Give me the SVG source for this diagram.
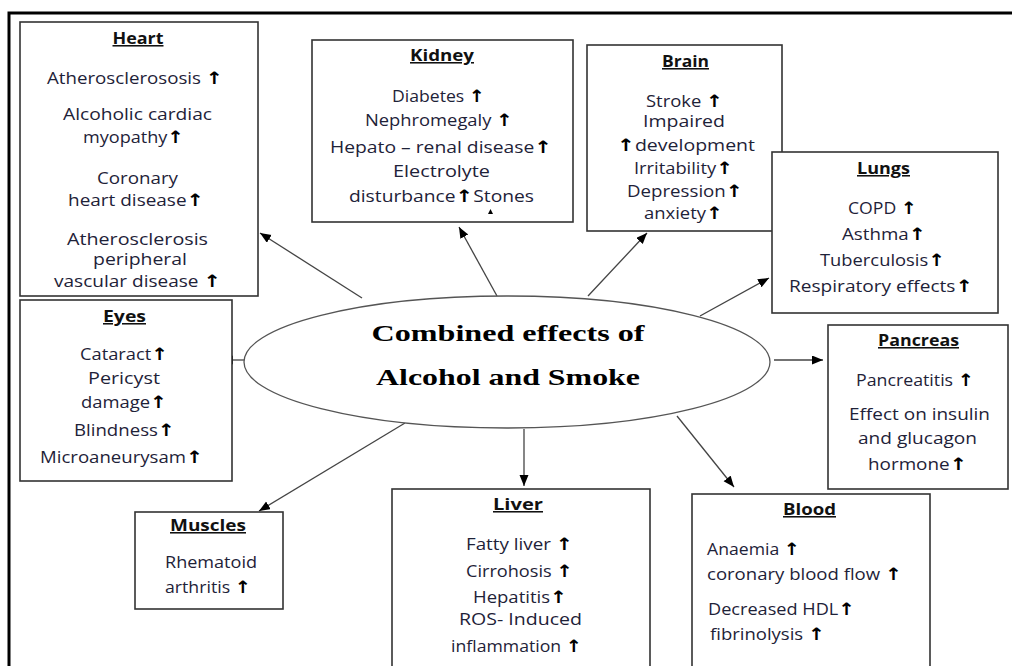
<svg xmlns="http://www.w3.org/2000/svg" width="1012" height="666" viewBox="0 0 1012 666">
<style>
.box{fill:#fff;stroke:#333;stroke-width:1.6}
.t{font-family:"Open Sans","Liberation Sans",sans-serif;font-size:15.5px;fill:#1e2238;text-anchor:middle}
.l{text-anchor:start}
.h{font-weight:bold;fill:#111;text-decoration:underline}
.up{font-family:"DejaVu Sans",sans-serif;font-weight:bold;font-size:17px;fill:#000}
.con{stroke:#444;stroke-width:1.3;fill:none;marker-end:url(#ah)}
.ct{font-family:"Liberation Serif","Times New Roman",serif;font-weight:bold;font-size:23px;fill:#000;text-anchor:middle}
</style>
<defs>
<marker id="ah" markerUnits="userSpaceOnUse" markerWidth="12" markerHeight="10" refX="11" refY="4.5" orient="auto">
<path d="M0,0 L11,4.5 L0,9 z" fill="#000"/>
</marker>
</defs>
<rect width="1012" height="666" fill="#fff"/>
<path d="M9,666 V13 H1012" fill="none" stroke="#000" stroke-width="3"/>

<g id="connectors">
<path class="con" d="M362,298 L260,233"/>
<path class="con" d="M497,296 L459,227"/>
<path class="con" d="M588,296 L647,233"/>
<path class="con" d="M700,316 L769,278"/>
<path class="con" d="M245,360 L222,360"/>
<path class="con" d="M774,360 L823,360"/>
<path class="con" d="M524,429 L524,486"/>
<path class="con" d="M677,416 L734,487"/>
<path class="con" d="M405,423 L259,511"/>
</g>

<g id="center">
<ellipse cx="507" cy="362" rx="263" ry="66" fill="#fff" stroke="#555" stroke-width="1.3"/>
<text class="ct" x="508" y="341" textLength="273" lengthAdjust="spacingAndGlyphs">Combined effects of</text>
<text class="ct" x="508" y="385" textLength="264" lengthAdjust="spacingAndGlyphs">Alcohol and Smoke</text>
</g>

<g id="heart">
<rect class="box" x="20" y="22" width="238" height="274"/>
<text class="t h" x="138" y="44" textLength="51" lengthAdjust="spacingAndGlyphs">Heart</text>
<text class="t" x="135" y="84" textLength="176" lengthAdjust="spacingAndGlyphs">Atherosclerososis <tspan class="up">↑</tspan></text>
<text class="t" x="137.5" y="120" textLength="149" lengthAdjust="spacingAndGlyphs">Alcoholic cardiac</text>
<text class="t" x="133.5" y="143" textLength="101" lengthAdjust="spacingAndGlyphs">myopathy<tspan class="up">↑</tspan></text>
<text class="t" x="137.5" y="184" textLength="81" lengthAdjust="spacingAndGlyphs">Coronary</text>
<text class="t" x="136" y="206" textLength="136" lengthAdjust="spacingAndGlyphs">heart disease<tspan class="up">↑</tspan></text>
<text class="t" x="137.5" y="245" textLength="141" lengthAdjust="spacingAndGlyphs">Atherosclerosis</text>
<text class="t" x="140" y="265" textLength="94" lengthAdjust="spacingAndGlyphs">peripheral</text>
<text class="t" x="137.5" y="287" textLength="167" lengthAdjust="spacingAndGlyphs">vascular disease <tspan class="up">↑</tspan></text>
</g>

<g id="kidney">
<rect class="box" x="312" y="40" width="261" height="182"/>
<text class="t h" x="442" y="61" textLength="64" lengthAdjust="spacingAndGlyphs">Kidney</text>
<text class="t" x="438.5" y="102" textLength="93" lengthAdjust="spacingAndGlyphs">Diabetes <tspan class="up">↑</tspan></text>
<text class="t" x="439" y="126" textLength="148" lengthAdjust="spacingAndGlyphs">Nephromegaly <tspan class="up">↑</tspan></text>
<text class="t" x="441" y="153" textLength="222" lengthAdjust="spacingAndGlyphs">Hepato – renal disease<tspan class="up">↑</tspan></text>
<text class="t" x="441.5" y="177" textLength="97" lengthAdjust="spacingAndGlyphs">Electrolyte</text>
<text class="t" x="441.5" y="202" textLength="185" lengthAdjust="spacingAndGlyphs">disturbance<tspan class="up">↑</tspan>Stones</text>
<path d="M488,214 L490.5,209 L493,214 z" fill="#000"/>
</g>

<g id="brain">
<rect class="box" x="587" y="45" width="195" height="186"/>
<text class="t h" x="685.5" y="67" textLength="47" lengthAdjust="spacingAndGlyphs">Brain</text>
<text class="t" x="684.5" y="107" textLength="77" lengthAdjust="spacingAndGlyphs">Stroke <tspan class="up">↑</tspan></text>
<text class="t" x="684" y="127" textLength="82" lengthAdjust="spacingAndGlyphs">Impaired</text>
<text class="t" x="686" y="151" textLength="138" lengthAdjust="spacingAndGlyphs"><tspan class="up">↑</tspan>development</text>
<text class="t" x="683.5" y="174" textLength="99" lengthAdjust="spacingAndGlyphs">Irritability<tspan class="up">↑</tspan></text>
<text class="t" x="685" y="197" textLength="116" lengthAdjust="spacingAndGlyphs">Depression<tspan class="up">↑</tspan></text>
<text class="t" x="683.5" y="219" textLength="79" lengthAdjust="spacingAndGlyphs">anxiety<tspan class="up">↑</tspan></text>
</g>

<g id="lungs">
<rect class="box" x="772" y="152" width="226" height="161"/>
<text class="t h" x="883.5" y="174" textLength="53" lengthAdjust="spacingAndGlyphs">Lungs</text>
<text class="t" x="882.5" y="214" textLength="69" lengthAdjust="spacingAndGlyphs">COPD <tspan class="up">↑</tspan></text>
<text class="t" x="884" y="240" textLength="84" lengthAdjust="spacingAndGlyphs">Asthma<tspan class="up">↑</tspan></text>
<text class="t" x="882.5" y="266" textLength="125" lengthAdjust="spacingAndGlyphs">Tuberculosis<tspan class="up">↑</tspan></text>
<text class="t" x="881" y="292" textLength="184" lengthAdjust="spacingAndGlyphs">Respiratory effects<tspan class="up">↑</tspan></text>
</g>

<g id="eyes">
<rect class="box" x="20" y="300" width="212" height="181"/>
<text class="t h" x="124.5" y="322" textLength="43" lengthAdjust="spacingAndGlyphs">Eyes</text>
<text class="t" x="124" y="360" textLength="88" lengthAdjust="spacingAndGlyphs">Cataract<tspan class="up">↑</tspan></text>
<text class="t" x="124" y="384" textLength="72" lengthAdjust="spacingAndGlyphs">Pericyst</text>
<text class="t" x="124" y="408" textLength="86" lengthAdjust="spacingAndGlyphs">damage<tspan class="up">↑</tspan></text>
<text class="t" x="124.5" y="436" textLength="101" lengthAdjust="spacingAndGlyphs">Blindness<tspan class="up">↑</tspan></text>
<text class="t" x="121.5" y="463" textLength="163" lengthAdjust="spacingAndGlyphs">Microaneurysam<tspan class="up">↑</tspan></text>
</g>

<g id="pancreas">
<rect class="box" x="828" y="325" width="180" height="164"/>
<text class="t h" x="918.5" y="346" textLength="81" lengthAdjust="spacingAndGlyphs">Pancreas</text>
<text class="t" x="915" y="386" textLength="118" lengthAdjust="spacingAndGlyphs">Pancreatitis <tspan class="up">↑</tspan></text>
<text class="t" x="919.5" y="420" textLength="141" lengthAdjust="spacingAndGlyphs">Effect on insulin</text>
<text class="t" x="917.5" y="444" textLength="119" lengthAdjust="spacingAndGlyphs">and glucagon</text>
<text class="t" x="917.5" y="470" textLength="99" lengthAdjust="spacingAndGlyphs">hormone<tspan class="up">↑</tspan></text>
</g>

<g id="muscles">
<rect class="box" x="135" y="512" width="148" height="97"/>
<text class="t h" x="208" y="531" textLength="76" lengthAdjust="spacingAndGlyphs">Muscles</text>
<text class="t" x="211" y="568" textLength="92" lengthAdjust="spacingAndGlyphs">Rhematoid</text>
<text class="t" x="208" y="593" textLength="86" lengthAdjust="spacingAndGlyphs">arthritis <tspan class="up">↑</tspan></text>
</g>

<g id="liver">
<rect class="box" x="392" y="489" width="258" height="190"/>
<text class="t h" x="518" y="510" textLength="50" lengthAdjust="spacingAndGlyphs">Liver</text>
<text class="t" x="519.5" y="550" textLength="107" lengthAdjust="spacingAndGlyphs">Fatty liver <tspan class="up">↑</tspan></text>
<text class="t" x="519.5" y="577" textLength="107" lengthAdjust="spacingAndGlyphs">Cirrohosis <tspan class="up">↑</tspan></text>
<text class="t" x="520" y="603" textLength="94" lengthAdjust="spacingAndGlyphs">Hepatitis<tspan class="up">↑</tspan></text>
<text class="t" x="520.5" y="625" textLength="123" lengthAdjust="spacingAndGlyphs">ROS- Induced</text>
<text class="t" x="516.5" y="652" textLength="131" lengthAdjust="spacingAndGlyphs">inflammation <tspan class="up">↑</tspan></text>
</g>

<g id="blood">
<rect class="box" x="692" y="494" width="238" height="185"/>
<text class="t h" x="809.5" y="515" textLength="53" lengthAdjust="spacingAndGlyphs">Blood</text>
<text class="t l" x="707" y="555" textLength="93" lengthAdjust="spacingAndGlyphs">Anaemia <tspan class="up">↑</tspan></text>
<text class="t l" x="707" y="580" textLength="195" lengthAdjust="spacingAndGlyphs">coronary blood flow <tspan class="up">↑</tspan></text>
<text class="t l" x="708" y="615" textLength="147" lengthAdjust="spacingAndGlyphs">Decreased HDL<tspan class="up">↑</tspan></text>
<text class="t l" x="710" y="640" textLength="115" lengthAdjust="spacingAndGlyphs">fibrinolysis <tspan class="up">↑</tspan></text>
</g>
</svg>
